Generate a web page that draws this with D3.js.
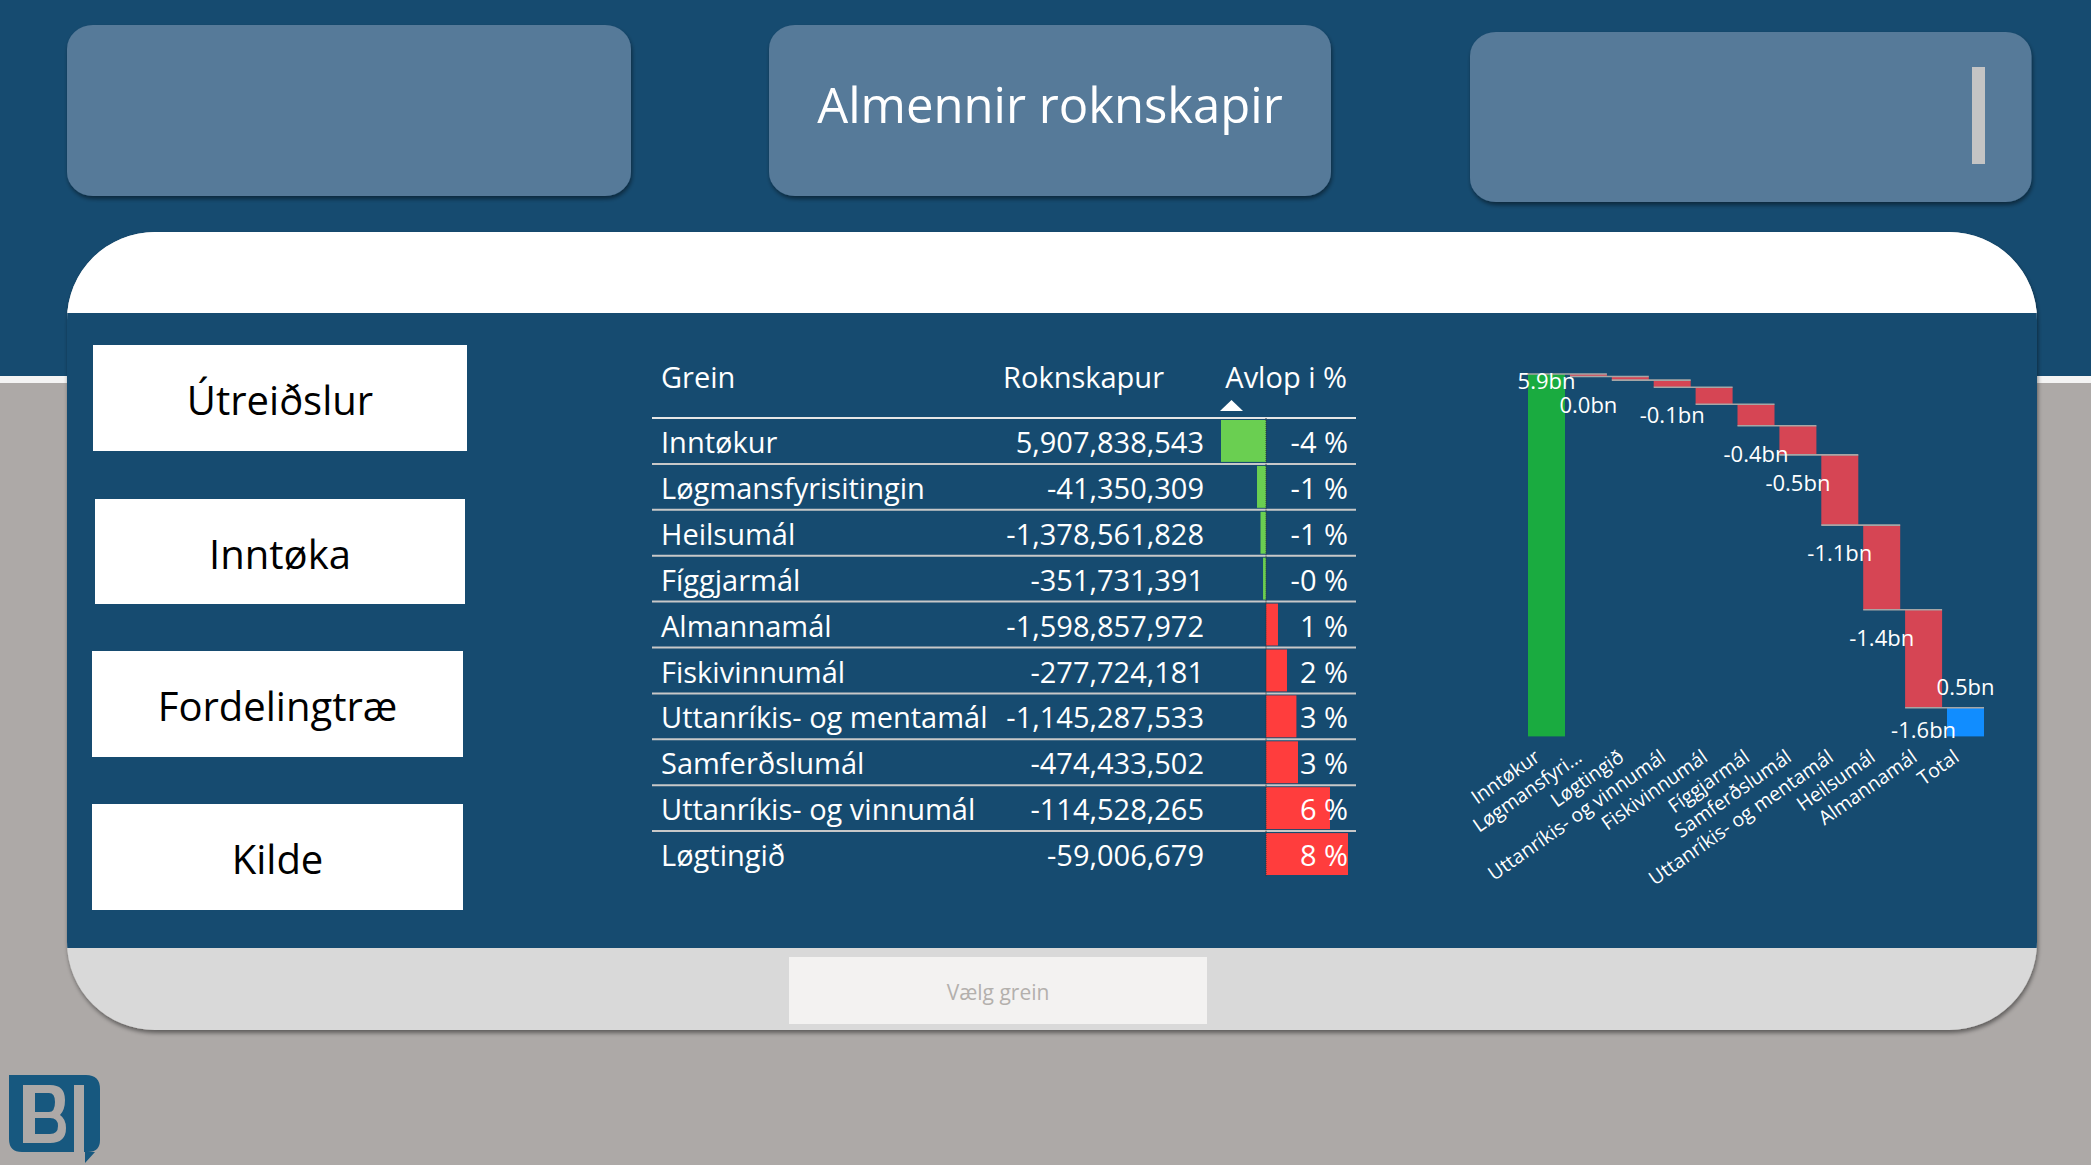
<!DOCTYPE html>
<html><head><meta charset="utf-8">
<script src="https://cdn.jsdelivr.net/npm/d3@7"></script>
<style>html,body{margin:0;padding:0;background:#ADA9A7;overflow:hidden}text{font-family:"Open Sans",sans-serif}</style>
</head><body><svg id="c" width="2091" height="1165"></svg>
<script>
const grein=["Inntøkur","Løgmansfyrisitingin","Heilsumál","Fíggjarmál","Almannamál","Fiskivinnumál","Uttanríkis- og mentamál","Samferðslumál","Uttanríkis- og vinnumál","Løgtingið"];
const rokn=[5907838543,-41350309,-1378561828,-351731391,-1598857972,-277724181,-1145287533,-474433502,-114528265,-59006679];
const avlop=[-4.25,-0.85,-0.52,-0.28,1.13,1.98,2.87,3.02,6.04,7.74];
const avlopLabels=["-4 %","-1 %","-1 %","-0 %","1 %","2 %","3 %","3 %","6 %","8 %"];
const wfCats=["Inntøkur","Løgmansfyri...","Løgtingið","Uttanríkis- og vinnumál","Fiskivinnumál","Fíggjarmál","Samferðslumál","Uttanríkis- og mentamál","Heilsumál","Almannamál","Total"];
const wfVals=[5907838543,-41350309,-59006679,-114528265,-277724181,-351731391,-474433502,-1145287533,-1378561828,-1598857972,466356883];
const wfLabels=["5.9bn","0.0bn","","-0.1bn","","-0.4bn","-0.5bn","-1.1bn","-1.4bn","-1.6bn","0.5bn"];
const buttons=["Útreiðslur","Inntøka","Fordelingtræ","Kilde"];
const title="Almennir roknskapir", slicerText="Vælg grein", headers=["Grein","Roknskapur","Avlop i %"];

const NAVY="#164B70",BOX="#577A99",GREY="#ADA9A7";
const svg=d3.select("#c");
const defs=svg.append("defs");
const f=defs.append("filter").attr("id","sh").attr("x","-5%").attr("y","-5%").attr("width","110%").attr("height","115%");
f.append("feDropShadow").attr("dx",1).attr("dy",3).attr("stdDeviation",2).attr("flood-color","#000").attr("flood-opacity",.45);

svg.append("rect").attr("width",2091).attr("height",1165).attr("fill",GREY);
svg.append("rect").attr("width",2091).attr("height",376).attr("fill",NAVY);
svg.append("rect").attr("y",376).attr("width",2091).attr("height",7).attr("fill","#F4F4F4");

// top boxes
[[67,25,564,171],[769,25,562,171],[1470,32,561.5,170]].forEach(b=>{
  svg.append("rect").attr("x",b[0]).attr("y",b[1]).attr("width",b[2]).attr("height",b[3]).attr("rx",26).attr("ry",24).attr("fill",BOX).attr("filter","url(#sh)");
});
svg.append("rect").attr("x",1972).attr("y",67).attr("width",13).attr("height",97).attr("fill","#C4C4C4");
svg.append("text").attr("x",1050).attr("y",123).attr("text-anchor","middle").attr("fill","#fff").attr("font-size",49).text(title);

// panel
const L=67,R=2037,T=232,B=1030,rr=88;
const panelPath=`M${L},${T+rr}A${rr},${rr} 0 0 1 ${L+rr},${T}H${R-rr}A${rr},${rr} 0 0 1 ${R},${T+rr}V${B-rr}A${rr},${rr} 0 0 1 ${R-rr},${B}H${L+rr}A${rr},${rr} 0 0 1 ${L},${B-rr}Z`;
defs.append("clipPath").attr("id","pc").append("path").attr("d",panelPath);
svg.append("path").attr("d",panelPath).attr("fill","#D9D9D9").attr("filter","url(#sh)");
const pg=svg.append("g").attr("clip-path","url(#pc)");
pg.append("rect").attr("x",L).attr("y",T).attr("width",R-L).attr("height",81).attr("fill","#fff");
pg.append("rect").attr("x",L).attr("y",313).attr("width",R-L).attr("height",635).attr("fill",NAVY);

// buttons
const bx=[[93,345,374,106],[95,499,370,105],[92,651,371,106],[92,804,371,106]];
buttons.forEach((t,i)=>{const b=bx[i];
  svg.append("rect").attr("x",b[0]).attr("y",b[1]).attr("width",b[2]).attr("height",b[3]).attr("fill","#fff");
  svg.append("text").attr("x",b[0]+b[2]/2).attr("y",b[1]+70).attr("text-anchor","middle").attr("fill","#000").attr("font-size",40).text(t);
});

// table
const rowY=d3.scaleBand().domain(grein).range([418,877]);
const xPct=d3.scaleLinear().domain([-4.25,7.74]).range([1221,1348]);
const fmt=d3.formatLocale({decimal:".",thousands:",",grouping:[3],currency:["",""],minus:"-"}).format(",");
const T_FS=29;
const hdr=svg.append("g").attr("fill","#fff").attr("font-size",T_FS);
hdr.append("text").attr("x",661).attr("y",388).text(headers[0]);
hdr.append("text").attr("x",1164).attr("y",388).attr("text-anchor","end").text(headers[1]);
hdr.append("text").attr("x",1347).attr("y",388).attr("text-anchor","end").text(headers[2]);
svg.append("path").attr("d","M1220,411L1231.5,400L1243,411Z").attr("fill","#fff");
svg.append("line").attr("x1",652).attr("x2",1356).attr("y1",418).attr("y2",418).attr("stroke","#E6E6E6").attr("stroke-width",2);
const rows=svg.selectAll("g.row").data(grein).join("g").attr("class","row").attr("transform",d=>`translate(0,${rowY(d)})`);
rows.filter((d,i)=>i<grein.length-1).append("line").attr("x1",652).attr("x2",1356).attr("y1",rowY.step()).attr("y2",rowY.step()).attr("stroke","#C8C8C8").attr("stroke-width",2);
rows.append("rect").attr("x",(d,i)=>Math.min(xPct(0),xPct(avlop[i]))).attr("y",2).attr("width",(d,i)=>Math.abs(xPct(avlop[i])-xPct(0))).attr("height",rowY.step()-4)
  .attr("fill",(d,i)=>avlop[i]<0?"#6ACF51":"#FF3D3D");
rows.append("line").attr("x1",xPct(0)).attr("x2",xPct(0)).attr("y1",0).attr("y2",rowY.step()).attr("stroke","#333").attr("stroke-dasharray","1 1");
rows.append("text").attr("x",661).attr("y",35).attr("fill","#fff").attr("font-size",T_FS).text(d=>d);
rows.append("text").attr("x",1204).attr("y",35).attr("text-anchor","end").attr("fill","#fff").attr("font-size",T_FS).text((d,i)=>fmt(rokn[i]));
rows.append("text").attr("x",1348).attr("y",35).attr("text-anchor","end").attr("fill","#fff").attr("font-size",T_FS).text((d,i)=>avlopLabels[i]);

// waterfall
const x=d3.scaleBand().domain(wfCats).range([1528,1984]).paddingInner(.117).paddingOuter(0);
const y=d3.scaleLinear().domain([0,5907838543]).range([736.4,374]);
let run=0;
const steps=wfCats.map((c,i)=>{
  const v=wfVals[i], total=i===wfCats.length-1;
  const a=total?0:run, b=total?v:run+v;
  if(!total) run=b;
  return {c,v,a,b,total,i};
});
const wf=svg.append("g");
wf.selectAll("rect").data(steps).join("rect").attr("x",d=>x(d.c)).attr("width",x.bandwidth())
  .attr("y",d=>y(Math.max(d.a,d.b))).attr("height",d=>Math.abs(y(d.a)-y(d.b)))
  .attr("fill",d=>d.total?"#118DFF":d.v>=0?"#1AAB40":"#D64554");
wf.selectAll("line").data(steps.slice(0,-1)).join("line").attr("x1",d=>x(d.c)).attr("x2",d=>x(wfCats[d.i+1])+x.bandwidth())
  .attr("y1",d=>y(d.b)).attr("y2",d=>y(d.b)).attr("stroke","#A6A6A6").attr("stroke-width",1.6);
wf.selectAll("text").data(steps.filter(d=>wfLabels[d.i])).join("text").attr("text-anchor","middle").attr("fill","#fff").attr("font-size",22)
  .attr("x",d=>x(d.c)+x.bandwidth()/2)
  .attr("y",d=>d.v>=0&&d.i!==1?Math.max(y(Math.max(d.a,d.b))-13,389):Math.min(y(d.b)+36,738))
  .text(d=>wfLabels[d.i]);
const ax=svg.append("g").attr("transform","translate(0,736.4)").call(d3.axisBottom(x).tickSize(0).tickPadding(0));
ax.select(".domain").remove();
ax.selectAll("text").attr("fill","#fff").attr("font-size",19.5).attr("font-family",'"Open Sans",sans-serif').attr("text-anchor","end")
  .attr("transform","translate(-9,18) rotate(-35)").attr("dy","0.35em").attr("y",0);

// slicer
svg.append("rect").attr("x",789).attr("y",957).attr("width",418).attr("height",67).attr("fill","#F3F2F1");
svg.append("text").attr("x",998).attr("y",1000).attr("text-anchor","middle").attr("fill","#B3B0AD").attr("font-size",21).text(slicerText);

// logo
const lg=svg.append("g");
lg.append("path").attr("d","M9,1075H86Q100,1075 100,1089V1140Q100,1152 88,1152H85V1163L95,1152H22Q9,1152 9,1139Z").attr("fill","#17587F");
lg.append("path").attr("d","M23,1085H50Q65,1085 65,1100Q65,1110 60,1115Q66,1119 66,1128Q66,1143 50,1143H23ZM35,1093V1112H49Q55,1112 55,1102Q55,1093 49,1093ZM35,1118V1134H50Q58,1134 58,1126Q58,1118 50,1118Z").attr("fill",GREY).attr("fill-rule","evenodd");
lg.append("rect").attr("x",74).attr("y",1085).attr("width",10).attr("height",68).attr("fill",GREY);
</script></body></html>
